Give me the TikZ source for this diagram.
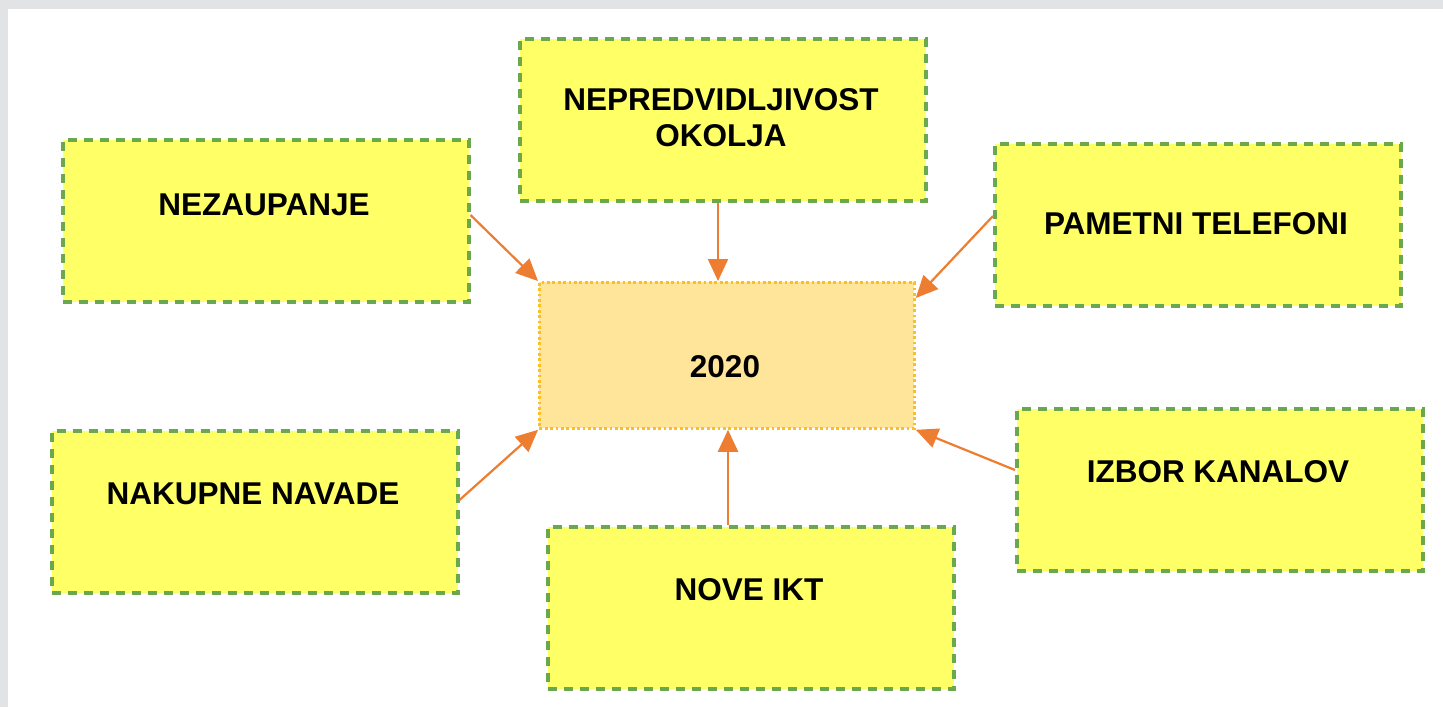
\documentclass[tikz,border=0pt]{standalone}
\usepackage{fontspec}
\setmainfont{Liberation Sans}
\usetikzlibrary{arrows.meta}
\definecolor{frame}{HTML}{E1E3E4}
\definecolor{boxfill}{HTML}{FFFF66}
\definecolor{boxline}{HTML}{6AA84F}
\definecolor{midfill}{HTML}{FFE599}
\definecolor{midline}{HTML}{F6C026}
\definecolor{arr}{HTML}{ED7D31}
\begin{document}
\begin{tikzpicture}[x=1pt,y=-1pt,
  ybox/.style={draw=boxline,fill=boxfill,line width=3.5pt,dash pattern=on 9pt off 7pt,minimum width=406pt,minimum height=162pt,inner sep=0pt,anchor=north west},
  cbox/.style={draw=midline,fill=midfill,line width=2.8pt,dash pattern=on 2.8pt off 2.6pt,minimum width=375pt,minimum height=146pt,inner sep=0pt,anchor=north west},
  lbl/.style={font=\fontsize{31.5}{36}\selectfont\bfseries,align=center,inner sep=0pt},
  conn/.style={draw=arr,line width=2.2pt,-{Triangle[length=22pt,width=20pt]}}]
\fill[frame] (0,0) rectangle (1443,707);
\fill[white] (8,9) rectangle (1443,707);
\useasboundingbox (0,0) rectangle (1443,707);
% boxes
\node[ybox] (nez) at (61,138) {};
\node[ybox] (nep) at (518,37) {};
\node[ybox] (pam) at (993,142) {};
\node[cbox] (mid) at (538,281) {};
\node[ybox] (nak) at (50,429) {};
\node[ybox] (nov) at (546,525) {};
\node[ybox] (izb) at (1015,407) {};
% labels
\node[lbl] (tnez) at (264,205) {NEZAUPANJE};
\node[lbl] (tnep) at (721,118) {NEPREDVIDLJIVOST\\OKOLJA};
\node[lbl] (tpam) at (1196,224) {PAMETNI TELEFONI};
\node[lbl] (tmid) at (725,367) {2020};
\node[lbl] (tnak) at (253,494) {NAKUPNE NAVADE};
\node[lbl] (tnov) at (749,590) {NOVE IKT};
\node[lbl] (tizb) at (1218,472) {IZBOR KANALOV};
% connectors
\draw[conn] (nez.east |- 0,215) -- (mid.north west);
\draw[conn] (nep.south -| 718,0) -- (mid.north -| 718,0);
\draw[conn] (pam.west |- 0,216) -- (mid.east |- 0,298);
\draw[conn] (nak.east |- 0,500) -- (mid.south west);
\draw[conn] (nov.north -| 728,0) -- (mid.south -| 728,0);
\draw[conn] (izb.west |- 0,470) -- (mid.south east);
\end{tikzpicture}
\end{document}
